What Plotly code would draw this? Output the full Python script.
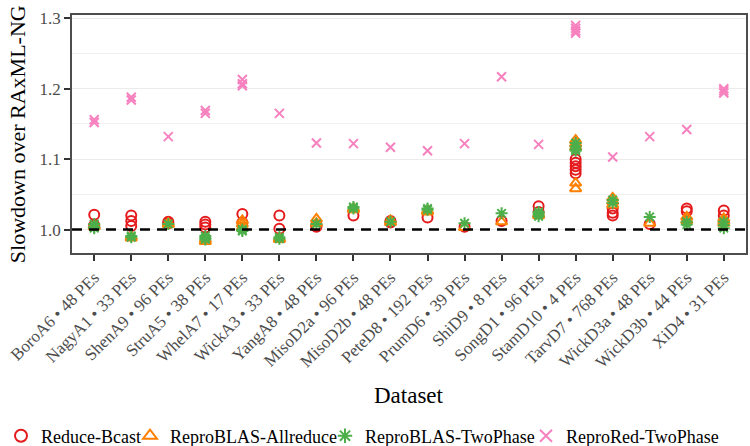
import plotly.graph_objects as go

datasets = ["BoroA6", "NagyA1", "ShenA9", "StruA5", "WhelA7", "WickA3", "YangA8",
            "MisoD2a", "MisoD2b", "PeteD8", "PrumD6", "ShiD9", "SongD1", "StamD10",
            "TarvD7", "WickD3a", "WickD3b", "XiD4"]
pes = [48, 33, 96, 38, 17, 33, 48, 96, 48, 192, 39, 8, 96, 4, 768, 48, 44, 31]

reduce_bcast = [
    [1.021, 1.006], [1.020, 1.012, 1.005], [1.011, 1.009], [1.011, 1.007, 1.003],
    [1.022, 1.010], [1.020, 1.001], [1.006, 1.004], [1.020], [1.012, 1.010],
    [1.017], [1.004], [1.012], [1.033, 1.025], [1.100, 1.095, 1.090, 1.085, 1.080],
    [1.030, 1.024, 1.020], [1.008], [1.030, 1.026], [1.027, 1.020]]
reproblas_allreduce = [
    [1.006, 1.004], [0.988, 0.990], [1.009, 1.007], [0.983, 0.986],
    [1.013, 1.008, 1.003], [0.986, 0.988], [1.015, 1.009], [1.030, 1.028],
    [1.013, 1.010], [1.027, 1.025], [1.003], [1.011], [1.020, 1.022],
    [1.127, 1.122, 1.117, 1.066, 1.058], [1.045, 1.040, 1.035], [1.009],
    [1.018, 1.013], [1.016, 1.012, 1.009]]
reproblas_twophase = [
    [1.008, 1.004, 1.002], [0.989, 0.991], [1.008], [0.991, 0.988, 0.986],
    [1.000, 0.998], [0.987, 0.989], [1.008], [1.032, 1.030], [1.011],
    [1.030, 1.028], [1.009], [1.023], [1.022, 1.025, 1.019],
    [1.123, 1.118, 1.114, 1.112], [1.042, 1.038], [1.018], [1.011, 1.007],
    [1.011, 1.006, 1.002]]
reprored_twophase = [
    [1.156, 1.152], [1.188, 1.184], [1.132], [1.169, 1.165], [1.213, 1.207, 1.204],
    [1.165], [1.123], [1.122], [1.117], [1.112], [1.122], [1.217], [1.121],
    [1.290, 1.286, 1.282, 1.279], [1.103], [1.132], [1.142], [1.200, 1.197, 1.194]]

series_names = ["Reduce-Bcast", "ReproBLAS-Allreduce", "ReproBLAS-TwoPhase", "ReproRed-TwoPhase"]
series_values = [reduce_bcast, reproblas_allreduce, reproblas_twophase, reprored_twophase]
colors = ["#E41A1C", "#FF7F00", "#4DAF4A", "#F781BF"]
symbols = ["circle-open", "triangle-up-open", "asterisk-open", "x-thin-open"]
sizes = [10, 10, 10, 9]
legend_ids = ["legend", "legend2", "legend3", "legend4"]
legend_text_x = [43, 172, 367, 568]  # pixel x where each legend label starts

FONT = "'Liberation Serif', 'Times New Roman', 'DejaVu Serif', serif"
tick_text = [f"{d} • {p} PEs" for d, p in zip(datasets, pes)]

fig = go.Figure()
for name, vals, col, sym, sz, lg in zip(series_names, series_values, colors, symbols, sizes, legend_ids):
    xs, ys = [], []
    for cat, vlist in zip(tick_text, vals):
        for v in vlist:
            xs.append(cat)
            ys.append(v)
    fig.add_trace(go.Scatter(
        x=xs, y=ys, mode="markers", name=name, legend=lg,
        marker=dict(symbol=sym, size=sz, color=col, line=dict(width=2, color=col)),
    ))

fig.add_hline(y=1.0, line=dict(color="black", width=2.6, dash="10px,7px"))

legend_layout = {}
for lg, tx in zip(legend_ids, legend_text_x):
    legend_layout[lg] = dict(
        orientation="h", xref="container", yref="container",
        x=(tx - 42) / 750, xanchor="left", y=1 - 436 / 446, yanchor="middle",
        font=dict(family=FONT, size=18, color="black"),
        itemwidth=30, itemsizing="constant", bgcolor="rgba(0,0,0,0)",
    )

fig.update_layout(
    width=750, height=446,
    margin=dict(l=72, r=2, t=15, b=193),
    paper_bgcolor="white", plot_bgcolor="white",
    font=dict(family=FONT, color="#4D4D4D", size=17),
    showlegend=True,
    annotations=[
        dict(text="Dataset", xref="paper", yref="paper", x=0.5, y=(253 - 395) / 238,
             showarrow=False, font=dict(family=FONT, size=23, color="black"),
             xanchor="center", yanchor="middle"),
        dict(text="Slowdown over RAxML-NG", xref="paper", yref="paper",
             x=(17 - 72) / 676, y=0.5, textangle=-90, showarrow=False,
             font=dict(family=FONT, size=22, color="black"),
             xanchor="center", yanchor="middle"),
    ],
    **legend_layout,
)

fig.update_xaxes(
    type="category", categoryorder="array", categoryarray=tick_text,
    range=[-0.6, 17.6], tickangle=-45,
    showgrid=False, zeroline=False,
    showline=True, linecolor="#4D4D4D", linewidth=1.8, mirror=True,
    ticks="outside", ticklen=6, tickwidth=2, tickcolor="#333333",
    tickfont=dict(family=FONT, size=17, color="#4D4D4D"),
)
fig.update_yaxes(
    range=[0.9667, 1.3047], tickvals=[1.0, 1.1, 1.2, 1.3],
    ticktext=["1.0", "1.1", "1.2", "1.3"],
    showgrid=True, gridcolor="#EBEBEB", gridwidth=1.4,
    minor=dict(tickvals=[1.05, 1.15, 1.25], showgrid=True, gridcolor="#F0F0F0", gridwidth=0.8),
    zeroline=False,
    showline=True, linecolor="#4D4D4D", linewidth=1.8, mirror=True,
    ticks="outside", ticklen=6, tickwidth=2, tickcolor="#333333",
    tickfont=dict(family=FONT, size=17, color="#4D4D4D"),
)

fig.write_html("out.html")
